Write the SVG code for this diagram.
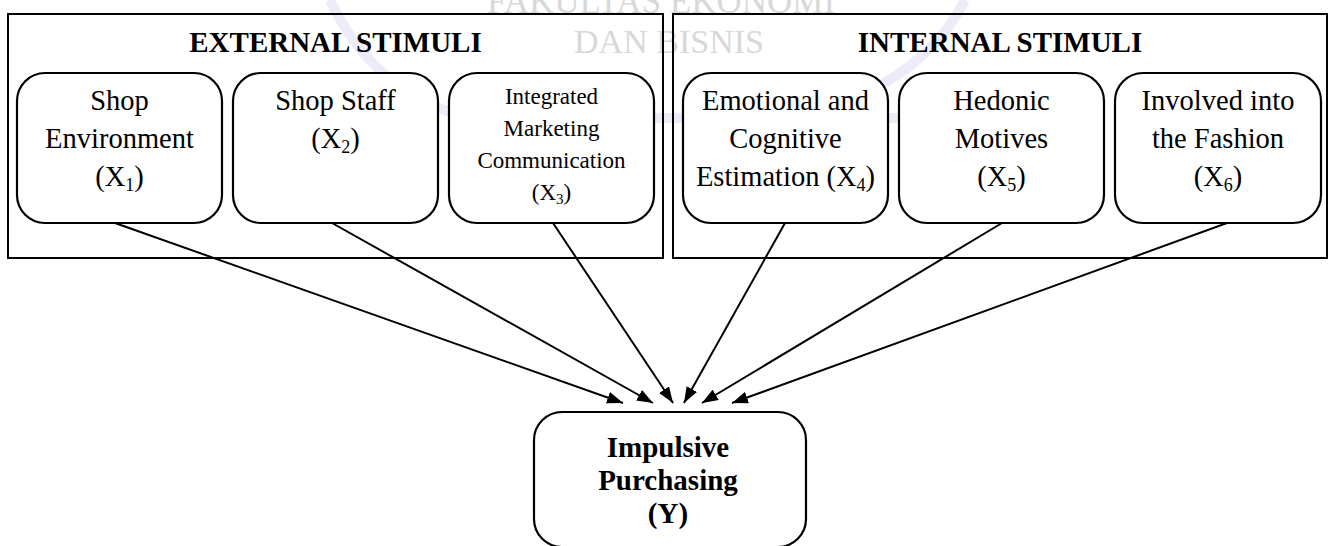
<svg xmlns="http://www.w3.org/2000/svg" width="1330" height="546" viewBox="0 0 1330 546">
<style>
.wm{font-family:"Liberation Serif","Times New Roman",serif;fill:#d8d8d8;}
.group{fill:none;stroke:#000;stroke-width:2;}
.box{fill:#fff;stroke:#000;stroke-width:2.2;}
.title{font-family:"Liberation Serif","Times New Roman",serif;font-weight:bold;font-size:29px;fill:#000;text-anchor:middle;}
.t{font-family:"Liberation Serif","Times New Roman",serif;font-size:28.5px;fill:#000;text-anchor:middle;}
.ts{font-family:"Liberation Serif","Times New Roman",serif;font-size:23px;fill:#000;text-anchor:middle;}
.tb{font-family:"Liberation Serif","Times New Roman",serif;font-weight:bold;font-size:29px;fill:#000;text-anchor:middle;}
.sub{font-size:18px;}
.subs{font-size:15px;}
.conn{stroke:#000;stroke-width:2;fill:none;marker-end:url(#arr);}
</style>
<defs>
<marker id="arr" markerUnits="userSpaceOnUse" markerWidth="16" markerHeight="12" refX="16" refY="6" orient="auto">
<path d="M0,0 L16,6 L0,12 z" fill="#000"/>
</marker>
</defs>
<rect width="1330" height="546" fill="#fff"/>
<g id="watermark">
<path d="M330,0 Q375,95 470,118 L900,118" fill="none" stroke="#ececf9" stroke-width="10"/>
<path d="M965,0 Q935,60 862,95" fill="none" stroke="#ececf9" stroke-width="10"/>
<text class="wm" x="661" y="13" font-size="35" text-anchor="middle">FAKULTAS EKONOMI</text>
<text class="wm" x="669" y="53" font-size="34" text-anchor="middle">DAN BISNIS</text>
</g>
<g id="external-stimuli">
<rect class="group" x="8" y="14" width="655" height="244"/>
<text class="title" x="335.5" y="52">EXTERNAL STIMULI</text>
</g>
<g id="internal-stimuli">
<rect class="group" x="673" y="14" width="654" height="244"/>
<text class="title" x="1000" y="52">INTERNAL STIMULI</text>
</g>
<g id="x1">
<rect class="box" x="17" y="73" width="205" height="150" rx="28"/>
<text class="t" x="119.5" y="110">Shop</text>
<text class="t" x="119.5" y="148">Environment</text>
<text class="t" x="119.5" y="186">(X<tspan class="sub" dy="5">1</tspan><tspan dy="-5">)</tspan></text>
</g>
<g id="x2">
<rect class="box" x="233" y="73" width="205" height="150" rx="28"/>
<text class="t" x="335.5" y="110">Shop Staff</text>
<text class="t" x="335.5" y="148">(X<tspan class="sub" dy="5">2</tspan><tspan dy="-5">)</tspan></text>
</g>
<g id="x3">
<rect class="box" x="449" y="73" width="205" height="150" rx="28"/>
<text class="ts" x="551.5" y="104">Integrated</text>
<text class="ts" x="551.5" y="136">Marketing</text>
<text class="ts" x="551.5" y="168">Communication</text>
<text class="ts" x="551.5" y="200">(X<tspan class="subs" dy="4">3</tspan><tspan dy="-4">)</tspan></text>
</g>
<g id="x4">
<rect class="box" x="683" y="73" width="205" height="150" rx="28"/>
<text class="t" x="785.5" y="110">Emotional and</text>
<text class="t" x="785.5" y="148">Cognitive</text>
<text class="t" x="785.5" y="186">Estimation (X<tspan class="sub" dy="5">4</tspan><tspan dy="-5">)</tspan></text>
</g>
<g id="x5">
<rect class="box" x="899" y="73" width="205" height="150" rx="28"/>
<text class="t" x="1001.5" y="110">Hedonic</text>
<text class="t" x="1001.5" y="148">Motives</text>
<text class="t" x="1001.5" y="186">(X<tspan class="sub" dy="5">5</tspan><tspan dy="-5">)</tspan></text>
</g>
<g id="x6">
<rect class="box" x="1115" y="73" width="206" height="150" rx="28"/>
<text class="t" x="1218" y="110">Involved into</text>
<text class="t" x="1218" y="148">the Fashion</text>
<text class="t" x="1218" y="186">(X<tspan class="sub" dy="5">6</tspan><tspan dy="-5">)</tspan></text>
</g>
<g id="y">
<rect class="box" x="534" y="412" width="272" height="135" rx="28"/>
<text class="tb" x="668" y="457">Impulsive</text>
<text class="tb" x="668" y="490">Purchasing</text>
<text class="tb" x="668" y="523">(Y)</text>
</g>
<g id="connectors">
<line class="conn" x1="115" y1="223" x2="623" y2="403"/>
<line class="conn" x1="332" y1="223" x2="653" y2="403"/>
<line class="conn" x1="553" y1="223" x2="673" y2="403"/>
<line class="conn" x1="785" y1="223" x2="684" y2="403"/>
<line class="conn" x1="1002" y1="223" x2="702" y2="403"/>
<line class="conn" x1="1227" y1="223" x2="732" y2="403"/>
</g>
</svg>
